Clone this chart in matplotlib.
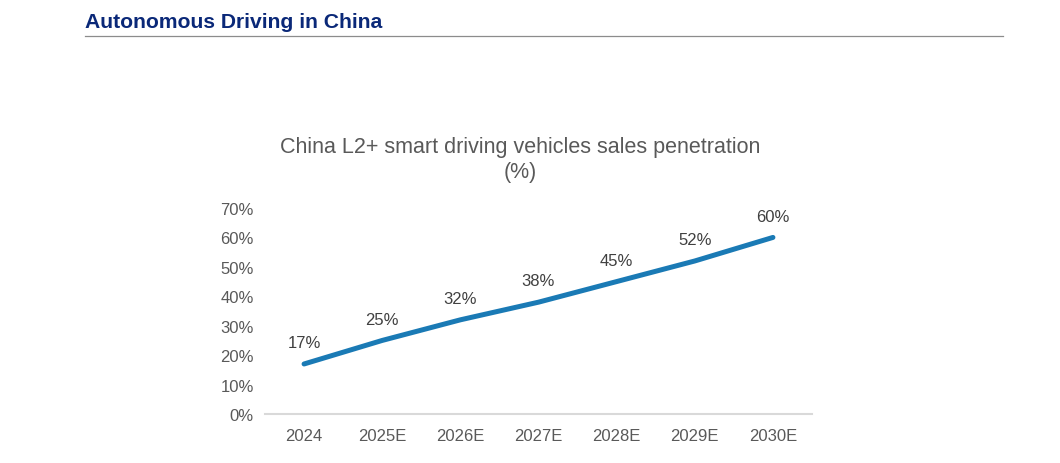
import matplotlib.pyplot as plt
from matplotlib.ticker import PercentFormatter

years = ["2024", "2025E", "2026E", "2027E", "2028E", "2029E", "2030E"]
penetration = [0.17, 0.25, 0.32, 0.38, 0.45, 0.52, 0.60]
y_ticks = [0, 0.1, 0.2, 0.3, 0.4, 0.5, 0.6, 0.7]

plt.rcParams["font.family"] = ["Liberation Sans", "DejaVu Sans"]

fig = plt.figure(figsize=(10.6, 4.64), dpi=100)

# page header
fig.text(85 / 1060, 1 - 23 / 464, "Autonomous Driving in China", fontsize=15.2,
         fontweight="bold", color="#0a2878", va="center", ha="left")
fig.add_artist(plt.Line2D([85 / 1060, 1003 / 1060], [1 - 37 / 464, 1 - 37 / 464],
                          color="#8c8c8c", linewidth=0.9))

ax = fig.add_axes([265 / 1060, 1 - 415 / 464, 547 / 1060, 206 / 464])
x = range(len(years))
ax.plot(x, penetration, color="#1a7ab5", linewidth=3.6, solid_capstyle="round")
for i, v in enumerate(penetration):
    ax.annotate(f"{v:.0%}", (i, v), xytext=(0, 10), textcoords="offset points",
                ha="center", va="bottom", fontsize=12, color="#404040")

ax.set_xlim(-0.5, len(years) - 0.5)
ax.set_ylim(0, 0.7)
ax.set_yticks(y_ticks)
ax.yaxis.set_major_formatter(PercentFormatter(1.0, decimals=0))
ax.set_xticks(list(x))
ax.set_xticklabels(years)
ax.tick_params(axis="both", length=0, labelsize=12, colors="#595959")
ax.tick_params(axis="x", pad=10)
ax.tick_params(axis="y", pad=8)
for s in ["top", "right", "left"]:
    ax.spines[s].set_visible(False)
ax.spines["bottom"].set_color("#d9d9d9")
ax.spines["bottom"].set_linewidth(1.5)

fig.text(520 / 1060, 1 - 160 / 464,
         "China L2+ smart driving vehicles sales penetration\n(%)",
         ha="center", va="center", fontsize=15.5, color="#595959", linespacing=1.2)

fig.savefig("out.png", dpi=100)
